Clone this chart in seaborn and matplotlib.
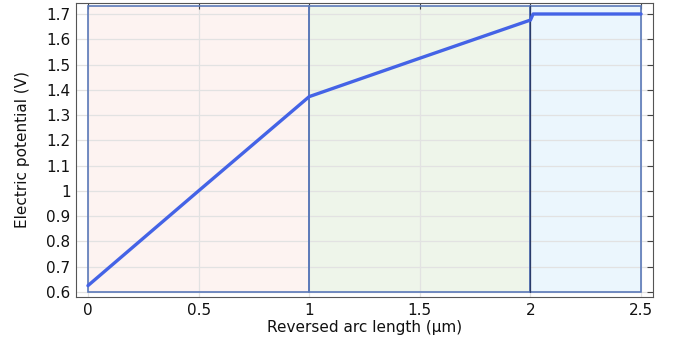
import matplotlib
matplotlib.use("Agg")
import matplotlib.pyplot as plt
from matplotlib.patches import Rectangle
import pandas as pd
import seaborn as sns

# potential along the reversed arc
arc_length = [0.0, 0.5, 1.0, 1.5, 2.0, 2.012, 2.5]
potential = [0.625, 1.0, 1.373, 1.525, 1.676, 1.700, 1.700]

# domains (layer boundaries in um) and their fills
domain_edges = [0.0, 1.0, 2.0, 2.5]
domain_colors = ["#fdf3f1", "#eef5ea", "#ebf6fd"]
domain_bottom = 0.6
domain_top = 1.732

x_ticks = [0, 0.5, 1, 1.5, 2, 2.5]
x_labels = ["0", "0.5", "1", "1.5", "2", "2.5"]
y_ticks = [0.6, 0.7, 0.8, 0.9, 1.0, 1.1, 1.2, 1.3, 1.4, 1.5, 1.6, 1.7]
y_labels = ["0.6", "0.7", "0.8", "0.9", "1", "1.1", "1.2", "1.3", "1.4", "1.5", "1.6", "1.7"]

sns.set_style("white")
plt.rcParams["font.family"] = ["DejaVu Sans"]

fig = plt.figure(figsize=(6.79, 3.45), dpi=100)
ax = fig.add_axes([76 / 679, 48 / 345, 577 / 679, 294 / 345])

for i, c in enumerate(domain_colors):
    x0, x1 = domain_edges[i], domain_edges[i + 1]
    ax.add_patch(Rectangle((x0, domain_bottom), x1 - x0, domain_top - domain_bottom,
                           facecolor=c, edgecolor="none", zorder=0))
ax.grid(True, color="#e2e2e2", linewidth=0.9, zorder=1)
ax.set_axisbelow(True)
for i, c in enumerate(domain_colors):
    x0, x1 = domain_edges[i], domain_edges[i + 1]
    ax.add_patch(Rectangle((x0, domain_bottom), x1 - x0, domain_top - domain_bottom,
                           facecolor="none", edgecolor="#5b79b8", linewidth=1.2, zorder=2))
ax.plot([2.0, 2.0], [domain_bottom, domain_top], color="#2a3b6a", linewidth=0.9, zorder=2)

df = pd.DataFrame({"arc": arc_length, "V": potential})
sns.lineplot(data=df, x="arc", y="V", color="#4463e6", linewidth=2.4, ax=ax, zorder=3)

ax.set_xlim(-0.054, 2.554)
ax.set_ylim(0.580, 1.7435)
ax.set_xticks(x_ticks)
ax.set_xticklabels(x_labels)
ax.set_yticks(y_ticks)
ax.set_yticklabels(y_labels)
ax.tick_params(direction="in", length=4, width=0.8, color="#444444", labelcolor="#111111",
               top=True, right=True, labelsize=11, pad=4)
for s in ax.spines.values():
    s.set_color("#555555")
    s.set_linewidth(0.8)
ax.set_xlabel("Reversed arc length (µm)", fontsize=11, labelpad=2, color="#111111")
ax.set_ylabel("Electric potential (V)", fontsize=11, labelpad=12, color="#111111")

fig.savefig("out.png", dpi=100)
